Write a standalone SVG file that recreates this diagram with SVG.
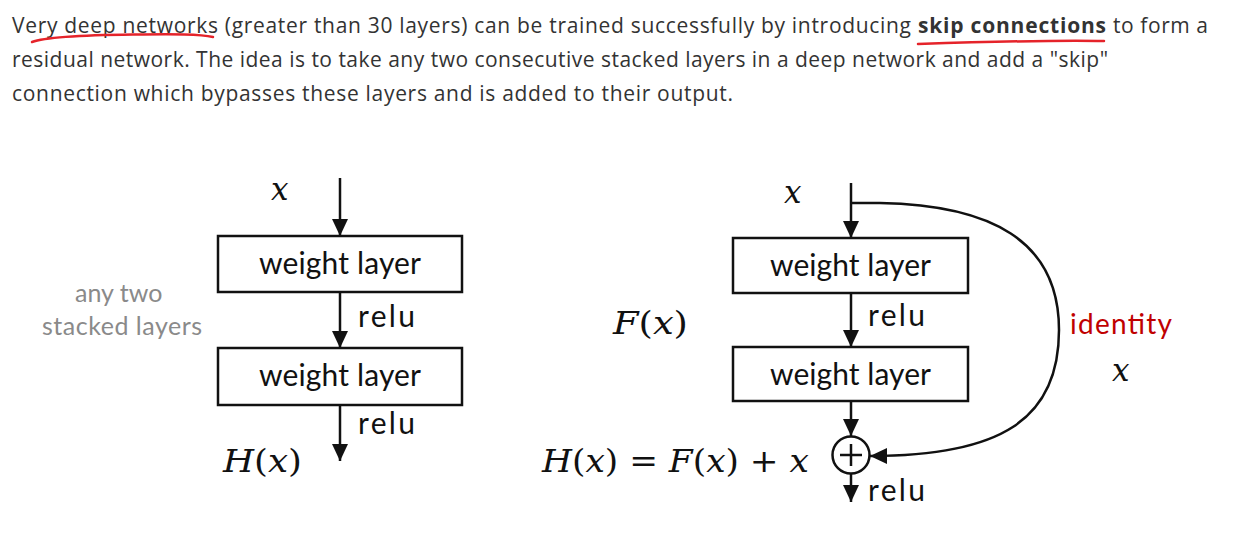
<svg xmlns="http://www.w3.org/2000/svg" width="1235" height="546" viewBox="0 0 1235 546">
<style>
.para{font-family:"Open Sans","Liberation Sans",sans-serif;font-size:21px;fill:#333;}
.bold{font-weight:bold;}
.lbl{font-family:Lato,"Liberation Sans",sans-serif;font-size:30px;fill:#111;}
.gray{font-family:Lato,"Liberation Sans",sans-serif;font-size:25px;fill:#8a8a8a;}
.red{font-family:Lato,"Liberation Sans",sans-serif;font-size:28px;fill:#c00000;}
.math{font-family:"DejaVu Serif","Liberation Serif",serif;font-size:31px;font-style:italic;fill:#111;}
.up{font-style:normal;}
.box{fill:#fff;stroke:#111;stroke-width:2.5;}
.conn{fill:none;stroke:#111;stroke-width:2.5;}
.ul{fill:none;stroke:#e5232a;stroke-width:2.5;stroke-linecap:round;}
</style>
<defs>
<marker id="ah" markerUnits="userSpaceOnUse" viewBox="0 0 17 16" refX="17" refY="8" markerWidth="17" markerHeight="16" orient="auto">
<path d="M0,0 L17,8 L0,16 z" fill="#111"/>
</marker>
</defs>
<rect width="1235" height="546" fill="#fff"/>

<g id="paragraph">
<text class="para" x="12" y="33" textLength="899" lengthAdjust="spacing">Very deep networks (greater than 30 layers) can be trained successfully by introducing</text>
<text class="para bold" x="918" y="33" textLength="188" lengthAdjust="spacing">skip connections</text>
<text class="para" x="1113" y="33" textLength="95" lengthAdjust="spacing">to form a</text>
<text class="para" x="12" y="67" textLength="1096" lengthAdjust="spacing">residual network. The idea is to take any two consecutive stacked layers in a deep network and add a "skip"</text>
<text class="para" x="12" y="101" textLength="721" lengthAdjust="spacing">connection which bypasses these layers and is added to their output.</text>
<path class="ul" d="M32,42 C45,37 90,35 133,34.5 S200,34 213,37"/>
<path class="ul" d="M918,44 C980,42 1060,40 1104,41"/>
</g>

<g id="connectors">
<line class="conn" x1="340" y1="178" x2="340" y2="236" marker-end="url(#ah)"/>
<line class="conn" x1="340" y1="292" x2="340" y2="348" marker-end="url(#ah)"/>
<line class="conn" x1="340" y1="405" x2="340" y2="461" marker-end="url(#ah)"/>
<line class="conn" x1="851" y1="183" x2="851" y2="238" marker-end="url(#ah)"/>
<line class="conn" x1="851" y1="293" x2="851" y2="347" marker-end="url(#ah)"/>
<line class="conn" x1="851" y1="401" x2="851" y2="436" marker-end="url(#ah)"/>
<line class="conn" x1="851" y1="474" x2="851" y2="502" marker-end="url(#ah)"/>
<path class="conn" d="M851,203 L880,203 C990,205 1059,240 1059,330 C1059,420 1000,456 870,456" marker-end="url(#ah)"/>
</g>

<g id="left-x"><text class="math" x="271" y="200">x</text></g>
<g id="left-box1">
<rect class="box" x="218" y="236" width="244" height="56"/>
<text class="lbl" x="259" y="274" textLength="162" lengthAdjust="spacing">weight layer</text>
</g>
<g id="left-relu1"><text class="lbl" x="358" y="327" textLength="57" lengthAdjust="spacing">relu</text></g>
<g id="left-box2">
<rect class="box" x="218" y="348" width="244" height="57"/>
<text class="lbl" x="259" y="386" textLength="162" lengthAdjust="spacing">weight layer</text>
</g>
<g id="left-relu2"><text class="lbl" x="358" y="434" textLength="57" lengthAdjust="spacing">relu</text></g>
<g id="left-Hx"><text class="math" x="223" y="472" textLength="79" lengthAdjust="spacingAndGlyphs">H<tspan class="up">(</tspan>x<tspan class="up">)</tspan></text></g>
<g id="stacked-label">
<text class="gray" x="75" y="302">any two</text>
<text class="gray" x="42" y="335" textLength="160" lengthAdjust="spacing">stacked layers</text>
</g>

<g id="right-x"><text class="math" x="784" y="203">x</text></g>
<g id="right-box1">
<rect class="box" x="733" y="238" width="235" height="55"/>
<text class="lbl" x="770" y="276" textLength="161" lengthAdjust="spacing">weight layer</text>
</g>
<g id="right-relu1"><text class="lbl" x="868" y="326" textLength="57" lengthAdjust="spacing">relu</text></g>
<g id="right-Fx"><text class="math" x="613" y="334" textLength="75" lengthAdjust="spacingAndGlyphs">F<tspan class="up">(</tspan>x<tspan class="up">)</tspan></text></g>
<g id="right-box2">
<rect class="box" x="733" y="347" width="235" height="54"/>
<text class="lbl" x="770" y="385" textLength="161" lengthAdjust="spacing">weight layer</text>
</g>
<g id="sum">
<circle cx="851" cy="455" r="18.5" fill="#fff" stroke="#111" stroke-width="2.5"/>
<line x1="840" y1="455" x2="862" y2="455" stroke="#111" stroke-width="2.5"/>
<line x1="851" y1="444" x2="851" y2="466" stroke="#111" stroke-width="2.5"/>
</g>
<g id="right-relu2"><text class="lbl" x="868" y="501" textLength="57" lengthAdjust="spacing">relu</text></g>
<g id="equation"><text class="math" x="542" y="472" textLength="267" lengthAdjust="spacingAndGlyphs">H<tspan class="up">(</tspan>x<tspan class="up">) = </tspan>F<tspan class="up">(</tspan>x<tspan class="up">) + </tspan>x</text></g>
<g id="identity-label">
<text class="red" x="1070" y="334" textLength="102" lengthAdjust="spacing">identity</text>
<text class="math" x="1112" y="381">x</text>
</g>
</svg>
